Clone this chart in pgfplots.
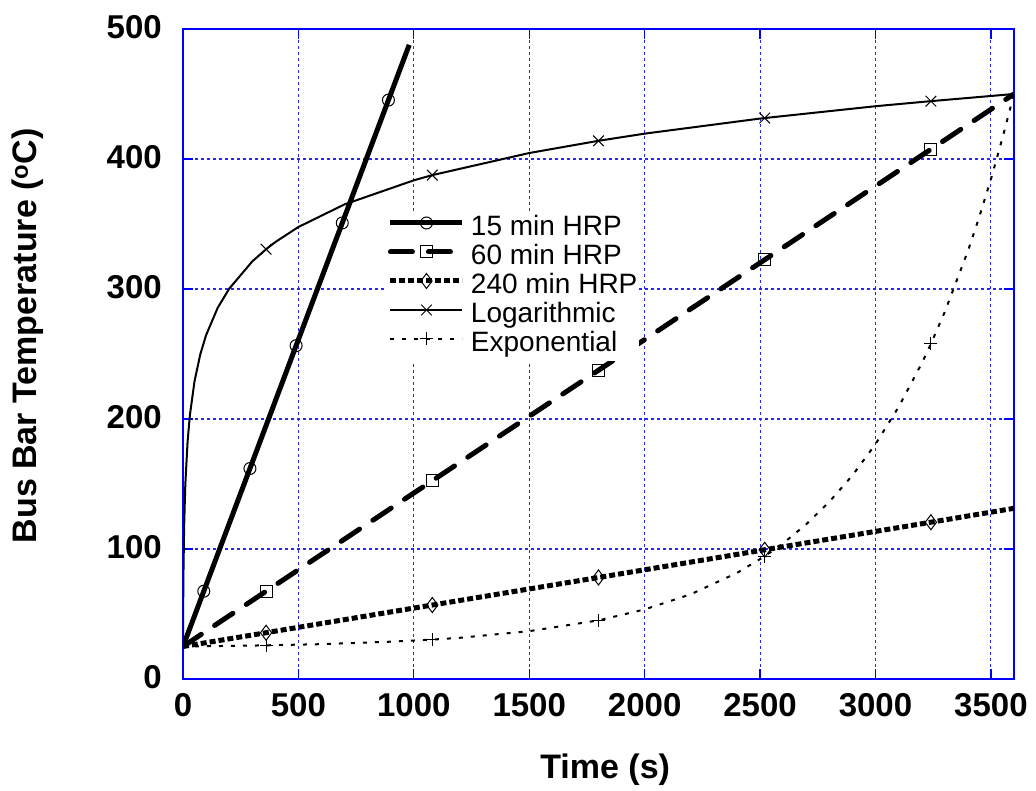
\documentclass[border=0pt]{standalone}
\usepackage{fontspec}
\setmainfont{Liberation Sans}
\usepackage{pgfplots}
\pgfplotsset{compat=1.18}

\begin{document}
\begin{tikzpicture}
\begin{axis}[name=ax,
  scale only axis, width=831pt, height=650pt,
  xmin=0, xmax=3600, ymin=0, ymax=500,
  xtick={0,500,...,3500}, ytick={0,100,...,500},
  /pgf/number format/assume math mode=true,
  /pgf/number format/set thousands separator={},
  tick label style={font=\fontsize{33}{38}\selectfont\bfseries, inner sep=0pt},
  yticklabel style={xshift=-21pt, yshift=2pt},
  xticklabel style={yshift=-14pt},
  tick pos=both, tick align=inside, major tick length=10pt,
  tick style={blue, line width=1.2pt},
  axis line style={blue, line width=1.6pt},
  grid=major,
  major grid style={blue!85!white, line width=1.1pt, dash pattern=on 3pt off 3pt},
  label style={font=\fontsize{34}{40}\selectfont\bfseries},
  xlabel={Time (s)},
  ylabel={Bus Bar Temperature (\textsuperscript{o}C)},
  xlabel style={at={(axis description cs:0.508,-0.14)}, anchor=center},
  ylabel style={at={(axis description cs:-0.1865,0.528)}, anchor=center},
  legend style={at={(rel axis cs:0.244,0.718)}, anchor=north west,
    draw=none, fill=white, inner sep=2pt, row sep=0pt, column sep=6pt,
    font=\fontsize{28}{29}\selectfont,
    nodes={inner sep=0pt, text height=21pt, text depth=8pt}},
  legend cell align=left,
  legend image code/.code={\draw[#1, mark indices={2}, yshift=6pt]
    plot coordinates {(0pt,0pt)(36pt,0pt)(72pt,0pt)};},
  every axis plot/.append style={black},
]

% 15 min HRP
\addplot[line width=5pt, mark=o, mark size=6pt, mark indices={2,3,4,5,6},
  mark options={solid, line width=1pt, fill=none}]
  coordinates {(0,25)(90,67.5)(290,161.9)(490,256.4)(690,350.8)(890,445.3)(980,487.8)};
\addlegendentry{15 min HRP}

% 60 min HRP
\addplot[line width=5pt, line cap=round, dash pattern=on 22pt off 16pt,
  mark=square, mark size=6pt, mark indices={2,3,4,5,6},
  mark options={solid, line width=1pt, fill=none}]
  coordinates {(0,25)(360,67.5)(1080,152.5)(1800,237.5)(2520,322.5)(3240,407.5)(3600,450)};
\addlegendentry{60 min HRP}

% 240 min HRP
\addplot[line width=5pt, dash pattern=on 6pt off 3pt,
  mark=diamond, mark size=7.5pt, mark indices={2,3,4,5,6},
  mark options={solid, line width=1pt, fill=none}]
  coordinates {(0,25)(360,35.6)(1080,56.9)(1800,78.1)(2520,99.4)(3240,120.6)(3600,131.3)};
\addlegendentry{240 min HRP}

% Logarithmic
\addplot[line width=2pt, mark=x, mark size=7.5pt, mark indices={14,19,21,24,26},
  mark options={solid, line width=1pt}]
  coordinates {(0,25)(1,61.0)(2,82.0)(5,118.0)(10,149.4)(20,183.0)(30,203.2)
  (50,229.1)(75,249.8)(100,264.5)(150,285.4)(200,300.2)(300,321.2)(360,330.6)
  (400,336.1)(500,347.7)(700,365.1)(1000,383.6)(1080,387.6)(1500,404.6)
  (1800,414.0)(2000,419.5)(2500,431.1)(2520,431.5)(3000,440.6)(3240,444.5)(3600,450)};
\addlegendentry{Logarithmic}

% Exponential
\addplot[line width=2pt, dash pattern=on 4pt off 8pt,
  mark=+, mark size=6.5pt, mark indices={3,6,9,13,21},
  mark options={solid, line width=1pt}]
  coordinates {(0,25)(300,25.7)(360,25.9)(600,26.8)(900,28.7)(1080,30.3)(1200,31.7)
  (1500,36.8)(1800,45.1)(2000,53.5)(2200,65.2)(2400,81.6)(2520,94.4)(2600,104.4)
  (2700,119.0)(2800,136.3)(2900,156.6)(3000,180.7)(3100,209.2)(3200,242.7)
  (3240,257.8)(3300,282.3)(3400,329.1)(3450,355.7)(3500,384.5)(3550,416.1)(3600,450)};
\addlegendentry{Exponential}

\end{axis}
\pgfresetboundingbox
\useasboundingbox ([shift={(-183pt,-112pt)}]ax.south west) rectangle ([shift={(853pt,679pt)}]ax.south west);
\end{tikzpicture}
\end{document}
